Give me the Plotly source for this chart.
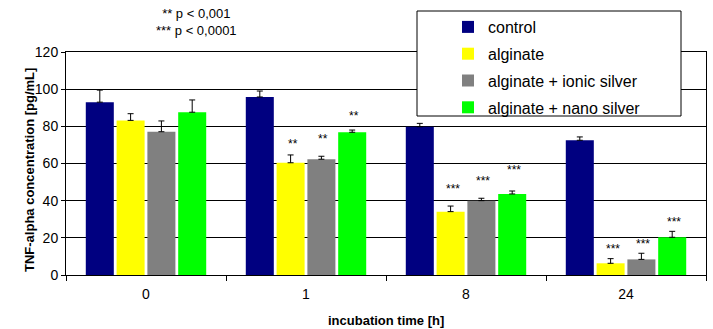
import plotly.graph_objects as go

categories = ["0", "1", "8", "24"]
series_names = ["control", "alginate", "alginate + ionic silver", "alginate + nano silver"]
series_colors = ["#000080", "#FFFF00", "#808080", "#00FF00"]

control = [93.0, 95.8, 79.8, 72.5]
alginate = [83.2, 60.4, 34.1, 6.3]
ionic_silver = [77.1, 62.3, 40.0, 8.4]
nano_silver = [87.6, 76.8, 43.6, 20.3]

control_err = [6.5, 3.2, 1.8, 1.8]
alginate_err = [3.6, 4.2, 3.0, 2.5]
ionic_silver_err = [5.8, 1.6, 1.3, 3.3]
nano_silver_err = [6.6, 1.2, 1.6, 3.2]

# significance labels: (category index, series index, label, label height)
stars = [
    (1, 1, "**", 70.5), (1, 2, "**", 73.2), (1, 3, "**", 85.6),
    (2, 1, "***", 46.5), (2, 2, "***", 50.6), (2, 3, "***", 56.5),
    (3, 1, "***", 14.0), (3, 2, "***", 16.9), (3, 3, "***", 28.5),
]
note_text = "** p < 0,001<br>*** p < 0,0001"
x_title = "incubation time [h]"
y_title = "TNF-alpha concentration [pg/mL]"

values = [control, alginate, ionic_silver, nano_silver]
errors = [control_err, alginate_err, ionic_silver_err, nano_silver_err]

W, H = 713, 329
ML, MR, MT, MB = 66, 7, 52, 54
PW, PH = W - ML - MR, H - MT - MB
BARGAP = 0.23
FONT = "Arial, Liberation Sans, sans-serif"


def px_x(p):
    return (p - ML) / PW


def px_y(p):
    return (H - MB - p) / PH


fig = go.Figure()
for name, color, vals, errs in zip(series_names, series_colors, values, errors):
    fig.add_trace(go.Bar(
        name=name, x=categories, y=vals,
        marker=dict(color=color, line=dict(width=0)),
        error_y=dict(type="data", symmetric=False, array=errs,
                     arrayminus=[0] * len(errs), color="black",
                     thickness=1, width=3),
        legendgroup=name,
    ))

slot_px = PW / len(categories) * (1 - BARGAP) / len(series_names)
for ci, si, label, yv in stars:
    fig.add_annotation(
        x=ci, y=yv, xref="x", yref="y", text=label, showarrow=False,
        xshift=(si - 1.5) * slot_px + 2, yanchor="middle",
        font=dict(family=FONT, size=12, color="black"),
    )

fig.add_annotation(
    x=px_x(196), y=px_y(22.5), xref="paper", yref="paper", text=note_text,
    showarrow=False, xanchor="center", yanchor="middle", align="center",
    font=dict(family=FONT, size=13, color="black"),
)

# axis titles
fig.add_annotation(
    x=px_x(386), y=px_y(320.5), xref="paper", yref="paper",
    text="<b>" + x_title + "</b>", showarrow=False,
    xanchor="center", yanchor="middle",
    font=dict(family=FONT, size=13, color="black"),
)
fig.add_annotation(
    x=px_x(29), y=px_y(170), xref="paper", yref="paper",
    text="<b>" + y_title + "</b>", showarrow=False, textangle=-90,
    xanchor="center", yanchor="middle",
    font=dict(family=FONT, size=13, color="black"),
)

# legend frame
fig.add_shape(
    type="rect", xref="paper", yref="paper",
    x0=px_x(417), x1=px_x(681), y0=px_y(116), y1=px_y(11),
    fillcolor="white", line=dict(color="black", width=1), layer="above",
)

fig.update_layout(
    width=W, height=H,
    margin=dict(l=ML, r=MR, t=MT, b=MB, autoexpand=False),
    paper_bgcolor="white", plot_bgcolor="white",
    barmode="group", bargap=BARGAP, bargroupgap=0.09,
    font=dict(family=FONT, size=13, color="black"),
    legend=dict(
        x=448 / W, y=1 - 10 / H, xref="container", yref="container",
        xanchor="left", yanchor="top",
        bgcolor="rgba(0,0,0,0)", borderwidth=0,
        font=dict(family=FONT, size=16, color="black"),
        tracegroupgap=3, traceorder="grouped",
    ),
    xaxis=dict(
        type="category", showline=True, linecolor="black", linewidth=1,
        mirror=True, ticks="outside", tickson="boundaries", ticklen=5,
        tickcolor="black", showgrid=False, ticklabelstandoff=6,
        automargin=False,
        tickfont=dict(family=FONT, size=14, color="black"),
    ),
    yaxis=dict(
        range=[0, 120], dtick=20, showline=True, linecolor="black",
        linewidth=1, mirror=True, ticks="outside", ticklen=4,
        tickcolor="black", showgrid=True, gridcolor="black", gridwidth=1,
        zeroline=False, automargin=False,
        tickfont=dict(family=FONT, size=14, color="black"),
    ),
)

fig.write_html(
    "out.html",
    config={"displayModeBar": False},
    post_script="document.body.style.margin='0';document.body.style.padding='0';",
)
